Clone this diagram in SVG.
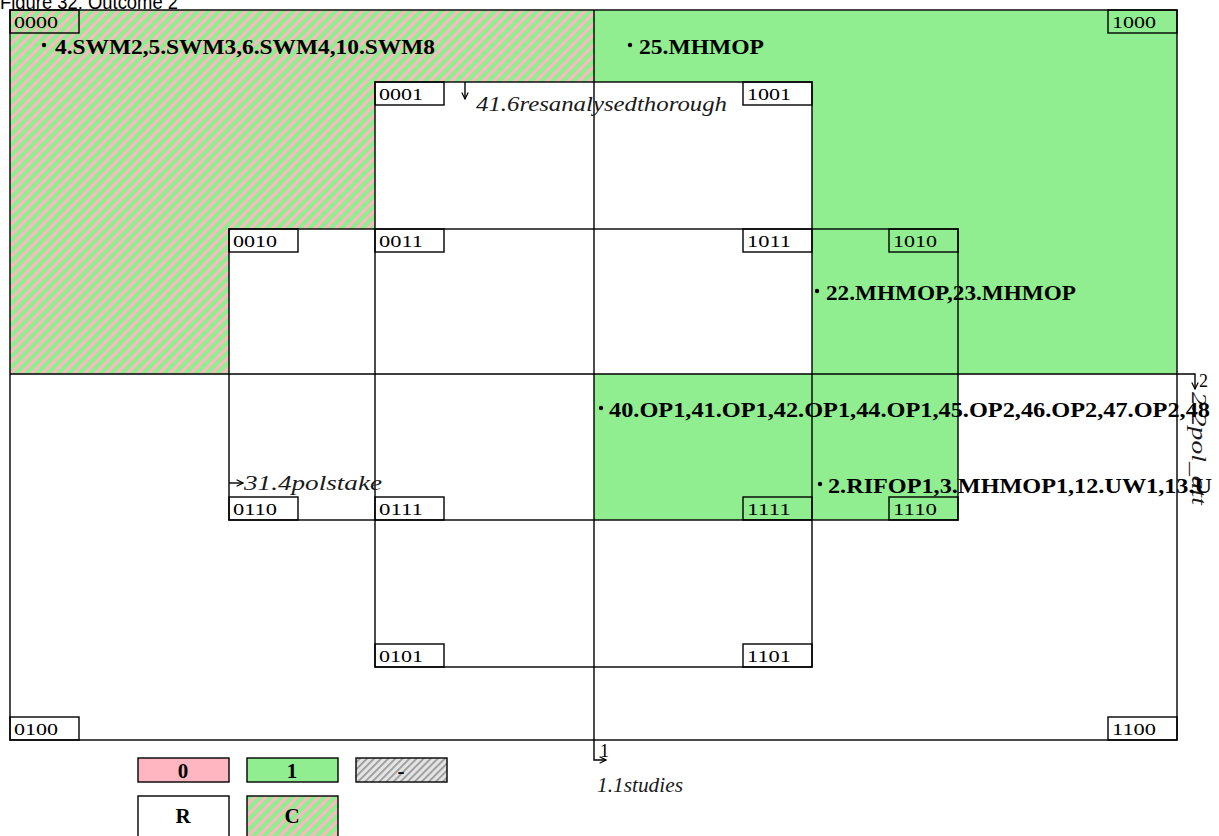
<svg xmlns="http://www.w3.org/2000/svg" width="1219" height="836" viewBox="0 0 1219 836">
<style>
.ln{fill:none;stroke:#000;stroke-width:1.4}
.bx{fill:none;stroke:#000;stroke-width:1.4}
.cl{font-family:'Liberation Serif','Times New Roman',serif;font-size:16px;fill:#000}
.bd{font-family:'Liberation Serif','Times New Roman',serif;font-size:20px;font-weight:bold;fill:#000}
.it{font-family:'Liberation Serif','Times New Roman',serif;font-size:20px;font-style:italic;fill:#1a1a1a}
.up{font-family:'Liberation Serif','Times New Roman',serif;font-size:18px;fill:#000}
.lg{font-family:'Liberation Serif','Times New Roman',serif;font-size:21px;font-weight:bold;fill:#000;text-anchor:middle}
</style>
<defs>
<pattern id="hpg" width="7.5" height="10" patternUnits="userSpaceOnUse" patternTransform="rotate(45)">
<rect width="7.5" height="10" fill="#90EE90"/>
<rect width="3" height="10" fill="#FFB6C1"/>
</pattern>
<pattern id="hgr" width="5" height="10" patternUnits="userSpaceOnUse" patternTransform="rotate(45)">
<rect width="5" height="10" fill="#e4e4e4"/>
<rect width="1.8" height="10" fill="#9a9a9a"/>
</pattern>
<marker id="ah" viewBox="0 0 10 10" refX="9" refY="5" markerWidth="8" markerHeight="8" orient="auto" markerUnits="userSpaceOnUse">
<path d="M1,1 L9,5 L1,9" fill="none" stroke="#000" stroke-width="1.5"/>
</marker>
</defs>

<text x="0" y="9" font-family="'Liberation Sans',Arial,sans-serif" font-size="21" textLength="178" lengthAdjust="spacingAndGlyphs" fill="#000">Figure 32: Outcome 2</text>

<g id="regions">
<polygon points="10,10 594,10 594,82 375,82 375,229 229,229 229,374 10,374" fill="url(#hpg)"/>
<polygon points="594,10 1177,10 1177,374 812,374 812,82 594,82" fill="#90EE90"/>
<rect x="594" y="374" width="364" height="146" fill="#90EE90"/>
</g>

<g id="sets">
<rect id="outer" class="ln" x="10" y="10" width="1167" height="730"/>
<rect id="set4" class="ln" x="375" y="82" width="437" height="585"/>
<rect id="set3" class="ln" x="229" y="229" width="729" height="291"/>
</g>

<g id="connectors">
<polyline class="ln" points="594,10 594,760 606,760" marker-end="url(#ah)"/>
<polyline class="ln" points="10,374 1195,374 1195,389" marker-end="url(#ah)"/>
<line class="ln" x1="465" y1="82" x2="465" y2="99" marker-end="url(#ah)"/>
<line class="ln" x1="229" y1="483" x2="243" y2="483" marker-end="url(#ah)"/>
</g>

<g id="var-labels">
<text class="up" x="600" y="757">1</text>
<text class="it" x="597" y="792" textLength="86" lengthAdjust="spacingAndGlyphs">1.1studies</text>
<text class="up" x="1199" y="387">2</text>
<text class="it" transform="translate(1192,392) rotate(90)" x="0" y="0" textLength="113" lengthAdjust="spacingAndGlyphs">2.2pol_att</text>
<text class="it" x="244" y="490" textLength="138" lengthAdjust="spacingAndGlyphs">31.4polstake</text>
<text class="it" x="476" y="111" textLength="251" lengthAdjust="spacingAndGlyphs">41.6resanalysedthorough</text>
</g>

<g id="cell-labels">
<g id="c0000"><rect class="bx" x="10" y="10" width="69" height="23"/><text class="cl" x="14" y="28" textLength="44" lengthAdjust="spacingAndGlyphs">0000</text></g>
<g id="c1000"><rect class="bx" x="1108" y="10" width="69" height="23"/><text class="cl" x="1112" y="28" textLength="44" lengthAdjust="spacingAndGlyphs">1000</text></g>
<g id="c0001"><rect class="bx" x="375" y="82" width="69" height="23"/><text class="cl" x="379" y="100" textLength="44" lengthAdjust="spacingAndGlyphs">0001</text></g>
<g id="c1001"><rect class="bx" x="743" y="82" width="69" height="23"/><text class="cl" x="747" y="100" textLength="44" lengthAdjust="spacingAndGlyphs">1001</text></g>
<g id="c0010"><rect class="bx" x="229" y="229" width="69" height="23"/><text class="cl" x="233" y="247" textLength="44" lengthAdjust="spacingAndGlyphs">0010</text></g>
<g id="c0011"><rect class="bx" x="375" y="229" width="69" height="23"/><text class="cl" x="379" y="247" textLength="44" lengthAdjust="spacingAndGlyphs">0011</text></g>
<g id="c1011"><rect class="bx" x="743" y="229" width="69" height="23"/><text class="cl" x="747" y="247" textLength="44" lengthAdjust="spacingAndGlyphs">1011</text></g>
<g id="c1010"><rect class="bx" x="889" y="229" width="69" height="23"/><text class="cl" x="893" y="247" textLength="44" lengthAdjust="spacingAndGlyphs">1010</text></g>
<g id="c0110"><rect class="bx" x="229" y="497" width="69" height="23"/><text class="cl" x="233" y="515" textLength="44" lengthAdjust="spacingAndGlyphs">0110</text></g>
<g id="c0111"><rect class="bx" x="375" y="497" width="69" height="23"/><text class="cl" x="379" y="515" textLength="44" lengthAdjust="spacingAndGlyphs">0111</text></g>
<g id="c1111"><rect class="bx" x="743" y="497" width="69" height="23"/><text class="cl" x="747" y="515" textLength="44" lengthAdjust="spacingAndGlyphs">1111</text></g>
<g id="c1110"><rect class="bx" x="889" y="497" width="69" height="23"/><text class="cl" x="893" y="515" textLength="44" lengthAdjust="spacingAndGlyphs">1110</text></g>
<g id="c0101"><rect class="bx" x="375" y="644" width="69" height="23"/><text class="cl" x="379" y="662" textLength="44" lengthAdjust="spacingAndGlyphs">0101</text></g>
<g id="c1101"><rect class="bx" x="743" y="644" width="69" height="23"/><text class="cl" x="747" y="662" textLength="44" lengthAdjust="spacingAndGlyphs">1101</text></g>
<g id="c0100"><rect class="bx" x="10" y="717" width="69" height="23"/><text class="cl" x="14" y="735" textLength="44" lengthAdjust="spacingAndGlyphs">0100</text></g>
<g id="c1100"><rect class="bx" x="1108" y="717" width="69" height="23"/><text class="cl" x="1112" y="735" textLength="44" lengthAdjust="spacingAndGlyphs">1100</text></g>
</g>

<g id="cases">
<g id="case0000"><circle cx="44" cy="45" r="2.2"/><text class="bd" x="55" y="54" textLength="380" lengthAdjust="spacingAndGlyphs">4.SWM2,5.SWM3,6.SWM4,10.SWM8</text></g>
<g id="case1000"><circle cx="630" cy="45" r="2.2"/><text class="bd" x="639" y="54" textLength="125" lengthAdjust="spacingAndGlyphs">25.MHMOP</text></g>
<g id="case1010"><circle cx="817" cy="291" r="2.2"/><text class="bd" x="826" y="300" textLength="250" lengthAdjust="spacingAndGlyphs">22.MHMOP,23.MHMOP</text></g>
<g id="case1111"><circle cx="601" cy="408" r="2.2"/><text class="bd" x="609" y="417" textLength="601" lengthAdjust="spacingAndGlyphs">40.OP1,41.OP1,42.OP1,44.OP1,45.OP2,46.OP2,47.OP2,48</text></g>
<g id="case1110"><circle cx="820" cy="484" r="2.2"/><text class="bd" x="828" y="493" textLength="384" lengthAdjust="spacingAndGlyphs">2.RIFOP1,3.MHMOP1,12.UW1,13.U</text></g>
</g>

<g id="legend">
<g id="lg0"><rect x="138" y="758" width="91" height="24" fill="#FFB6C1" stroke="#000" stroke-width="1.4"/><text class="lg" x="183" y="778">0</text></g>
<g id="lg1"><rect x="247" y="758" width="91" height="24" fill="#90EE90" stroke="#000" stroke-width="1.4"/><text class="lg" x="292" y="778">1</text></g>
<g id="lgd"><rect x="356" y="758" width="91" height="24" fill="url(#hgr)" stroke="#000" stroke-width="1.4"/><text class="lg" x="401" y="778" fill="#888">-</text></g>
<g id="lgR"><rect x="138" y="796" width="91" height="44" fill="#fff" stroke="#000" stroke-width="1.4"/><text class="lg" x="183" y="823">R</text></g>
<g id="lgC"><rect x="247" y="796" width="91" height="44" fill="url(#hpg)" stroke="#000" stroke-width="1.4"/><text class="lg" x="292" y="823">C</text></g>
</g>
</svg>
